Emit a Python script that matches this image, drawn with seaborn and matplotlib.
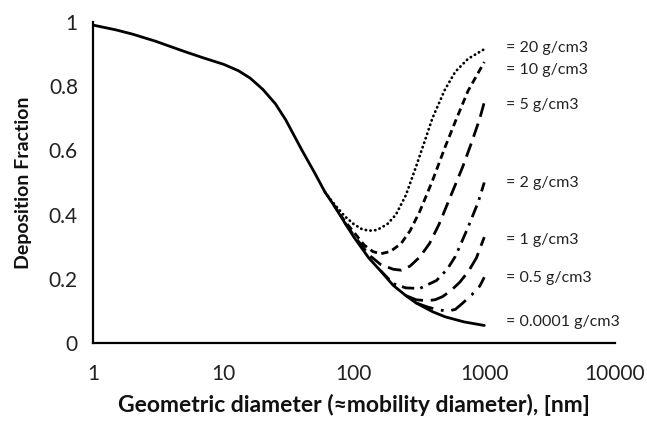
import numpy as np
import pandas as pd
import matplotlib
matplotlib.use("Agg")
import matplotlib.pyplot as plt
import seaborn as sns

# ---- data ----
base_d = [1, 1.5, 2, 3, 5, 7, 10, 13, 16, 20, 25, 30, 40, 50, 60, 70, 85, 100,
          130, 160, 200, 250, 300, 400, 500, 700, 1000]
base_f = [0.99, 0.975, 0.962, 0.94, 0.908, 0.888, 0.868, 0.848, 0.825, 0.79, 0.745,
          0.695, 0.60, 0.53, 0.47, 0.43, 0.375, 0.33, 0.265, 0.225, 0.18, 0.148,
          0.125, 0.098, 0.082, 0.066, 0.055]

d20 = [60, 70, 85, 100, 115, 130, 150, 180, 210, 250, 300, 350, 400, 500, 600, 750, 1000]
f20 = [0.47, 0.435, 0.395, 0.37, 0.355, 0.35, 0.352, 0.37, 0.40, 0.46, 0.55, 0.63,
       0.70, 0.79, 0.845, 0.885, 0.915]

d10 = [70, 85, 100, 120, 140, 160, 190, 230, 270, 320, 400, 500, 600, 750, 1000]
f10 = [0.43, 0.38, 0.345, 0.305, 0.285, 0.278, 0.285, 0.31, 0.35, 0.41, 0.505,
       0.61, 0.69, 0.785, 0.875]

d5 = [85, 100, 130, 160, 200, 230, 270, 320, 380, 450, 575, 685, 800, 925, 1000]
f5 = [0.375, 0.335, 0.275, 0.245, 0.23, 0.227, 0.24, 0.268, 0.31, 0.37, 0.475,
      0.55, 0.625, 0.70, 0.75]

d2 = [160, 200, 250, 320, 430, 520, 600, 750, 900, 1000]
f2 = [0.226, 0.185, 0.172, 0.17, 0.195, 0.23, 0.27, 0.36, 0.44, 0.50]

d1 = [250, 300, 360, 420, 480, 560, 650, 760, 870, 1000]
f1 = [0.148, 0.135, 0.132, 0.135, 0.145, 0.165, 0.19, 0.225, 0.265, 0.33]

d05 = [300, 370, 450, 530, 600, 685, 800, 925, 1000]
f05 = [0.125, 0.112, 0.103, 0.10, 0.105, 0.125, 0.15, 0.178, 0.205]

labels = ["= 20 g/cm3", "= 10 g/cm3", "= 5 g/cm3", "= 2 g/cm3",
          "= 1 g/cm3", "= 0.5 g/cm3", "= 0.0001 g/cm3"]
label_y = [0.919, 0.85, 0.741, 0.498, 0.321, 0.2025, 0.065]

x_ticks = [1, 10, 100, 1000, 10000]
x_tick_labels = ["1", "10", "100", "1000", "10000"]
y_ticks = [0, 0.2, 0.4, 0.6, 0.8, 1.0]
y_tick_labels = ["0", "0.2", "0.4", "0.6", "0.8", "1"]

# ---- plotting ----
sns.set_style("white")
plt.rcParams["font.family"] = ["Lato", "DejaVu Sans"]

fig = plt.figure(figsize=(6.47, 4.21), dpi=100)
ax = fig.add_axes([0.144, 0.185, 0.806, 0.763])

series = [
    (d20, f20, (0.1, 1.6), "round"),
    (d10, f10, (2.6, 1.6), "butt"),
    (d5, f5, (5.0, 2.6), "butt"),
    (d2, f2, (4.5, 2.2, 1.0, 2.2), "butt"),
    (d1, f1, (6.5, 2.8), "butt"),
    (d05, f05, (6.5, 2.8, 1.0, 2.8), "butt"),
]

sns.lineplot(x=base_d, y=base_f, ax=ax, color="black", linewidth=2.0)
for dd, ff, dash, cap in series:
    sns.lineplot(x=dd, y=ff, ax=ax, color="black", linewidth=2.0)
    ln = ax.lines[-1]
    ln.set_dashes(dash)
    ln.set_dash_capstyle(cap)

ax.set_xscale("log")
ax.set_xlim(1, 10000)
ax.set_ylim(0, 1)

ax.set_xticks(x_ticks)
ax.set_xticklabels(x_tick_labels)
ax.set_yticks(y_ticks)
ax.set_yticklabels(y_tick_labels)
ax.set_yticks(np.arange(0.1, 1.0, 0.2), minor=True)
ax.xaxis.set_minor_locator(matplotlib.ticker.LogLocator(base=10, subs=np.arange(2, 10)))
ax.xaxis.set_minor_formatter(matplotlib.ticker.NullFormatter())

ax.tick_params(axis="both", which="both", direction="out", color="black",
               width=1.5, labelsize=15, labelcolor="#222222")
ax.tick_params(axis="both", which="major", length=5)
ax.tick_params(axis="x", which="major", pad=10)
ax.tick_params(axis="y", which="major", pad=6)
ax.tick_params(axis="both", which="minor", length=5)

for s in ["top", "right"]:
    ax.spines[s].set_visible(False)
for s in ["left", "bottom"]:
    ax.spines[s].set_color("black")
    ax.spines[s].set_linewidth(1.6)

ax.set_xlabel("Geometric diameter (\u2248mobility diameter), [nm]",
              fontsize=16.5, fontweight="bold", labelpad=7, color="#111111")
ax.set_ylabel("Deposition Fraction", fontsize=14, fontweight="bold", labelpad=12,
              color="#111111")

for lab, yy in zip(labels, label_y):
    ax.text(1480, yy, lab, fontsize=11.5, va="center", ha="left", color="#222222",
            clip_on=False)

fig.savefig("out.png", dpi=100)
